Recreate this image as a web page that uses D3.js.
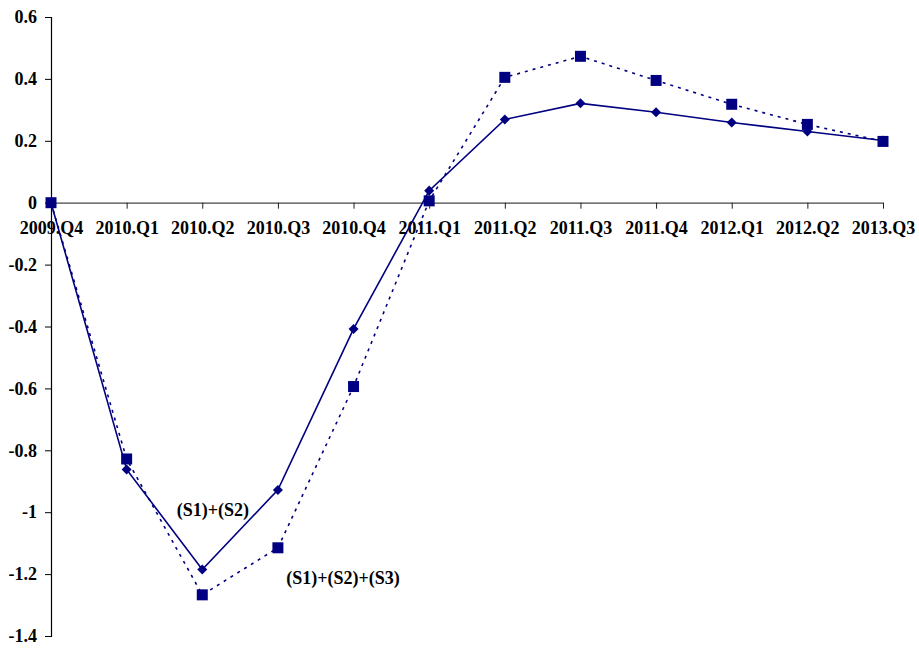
<!DOCTYPE html>
<html><head><meta charset="utf-8">
<script src="https://cdn.jsdelivr.net/npm/d3@7"></script>
<style>body{margin:0;background:#fff}svg{display:block}</style>
</head><body>
<svg id="c" width="919" height="648"></svg>
<script>
const categories = ["2009.Q4","2010.Q1","2010.Q2","2010.Q3","2010.Q4","2011.Q1","2011.Q2","2011.Q3","2011.Q4","2012.Q1","2012.Q2","2013.Q3"];
const seriesS12 = [0, -0.862, -1.185, -0.928, -0.408, 0.039, 0.269, 0.321, 0.292, 0.259, 0.230, 0.201];
const seriesS123 = [0, -0.828, -1.267, -1.115, -0.594, 0.006, 0.405, 0.473, 0.395, 0.318, 0.253, 0.198];
const yTicks = [0.6, 0.4, 0.2, 0, -0.2, -0.4, -0.6, -0.8, -1, -1.2, -1.4];
const labelS12 = "(S1)+(S2)";
const labelS123 = "(S1)+(S2)+(S3)";

const svg = d3.select("#c");
const font = "'Liberation Serif','Times New Roman',serif";
const x = d3.scalePoint().domain(categories).range([51, 883]).padding(0);
const y = d3.scaleLinear().domain([-1.4, 0.6]).range([636, 17]);
const navy = "#000080";

// y axis
const ya = svg.append("g").attr("transform","translate(51,0)")
  .call(d3.axisLeft(y).tickValues(yTicks).tickSize(6).tickPadding(8).tickFormat(d => String(+d.toFixed(1))));
ya.select(".domain").attr("stroke","#000").attr("stroke-width",1.2);
ya.selectAll(".tick line").attr("stroke","#000");
ya.selectAll("text").attr("font-family",font).attr("font-weight","bold").attr("font-size",18).attr("fill","#000");

// x axis at zero
const xa = svg.append("g").attr("transform",`translate(0,${y(0)})`)
  .call(d3.axisBottom(x).tickSize(6).tickSizeOuter(0).tickPadding(13));
xa.select(".domain").attr("stroke","#444").attr("stroke-width",1.2);
xa.selectAll(".tick line").attr("stroke","#222");
xa.selectAll("text").attr("font-family",font).attr("font-weight","bold").attr("font-size",18).attr("fill","#000");

const line = d3.line().x((d,i)=>x(categories[i])).y(d=>y(d));

svg.append("path").datum(seriesS123).attr("d",line).attr("fill","none")
  .attr("stroke",navy).attr("stroke-width",1.6).attr("stroke-dasharray","3,5");
svg.append("path").datum(seriesS12).attr("d",line).attr("fill","none")
  .attr("stroke",navy).attr("stroke-width",1.6);

svg.append("g").selectAll("path").data(seriesS12).join("path")
  .attr("d", d3.symbol(d3.symbolDiamond2 || d3.symbolDiamond, 64))
  .attr("transform",(d,i)=>`translate(${x(categories[i])},${y(d)})`)
  .attr("fill",navy);
svg.append("g").selectAll("rect").data(seriesS123).join("rect")
  .attr("x",(d,i)=>x(categories[i])-5.5).attr("y",d=>y(d)-5.5)
  .attr("width",11).attr("height",11).attr("fill",navy);

svg.append("text").attr("x",213).attr("y",516).attr("text-anchor","middle")
  .attr("font-family",font).attr("font-weight","bold").attr("font-size",18).text(labelS12);
svg.append("text").attr("x",343).attr("y",584).attr("text-anchor","middle")
  .attr("font-family",font).attr("font-weight","bold").attr("font-size",18).text(labelS123);
</script>
</body></html>
